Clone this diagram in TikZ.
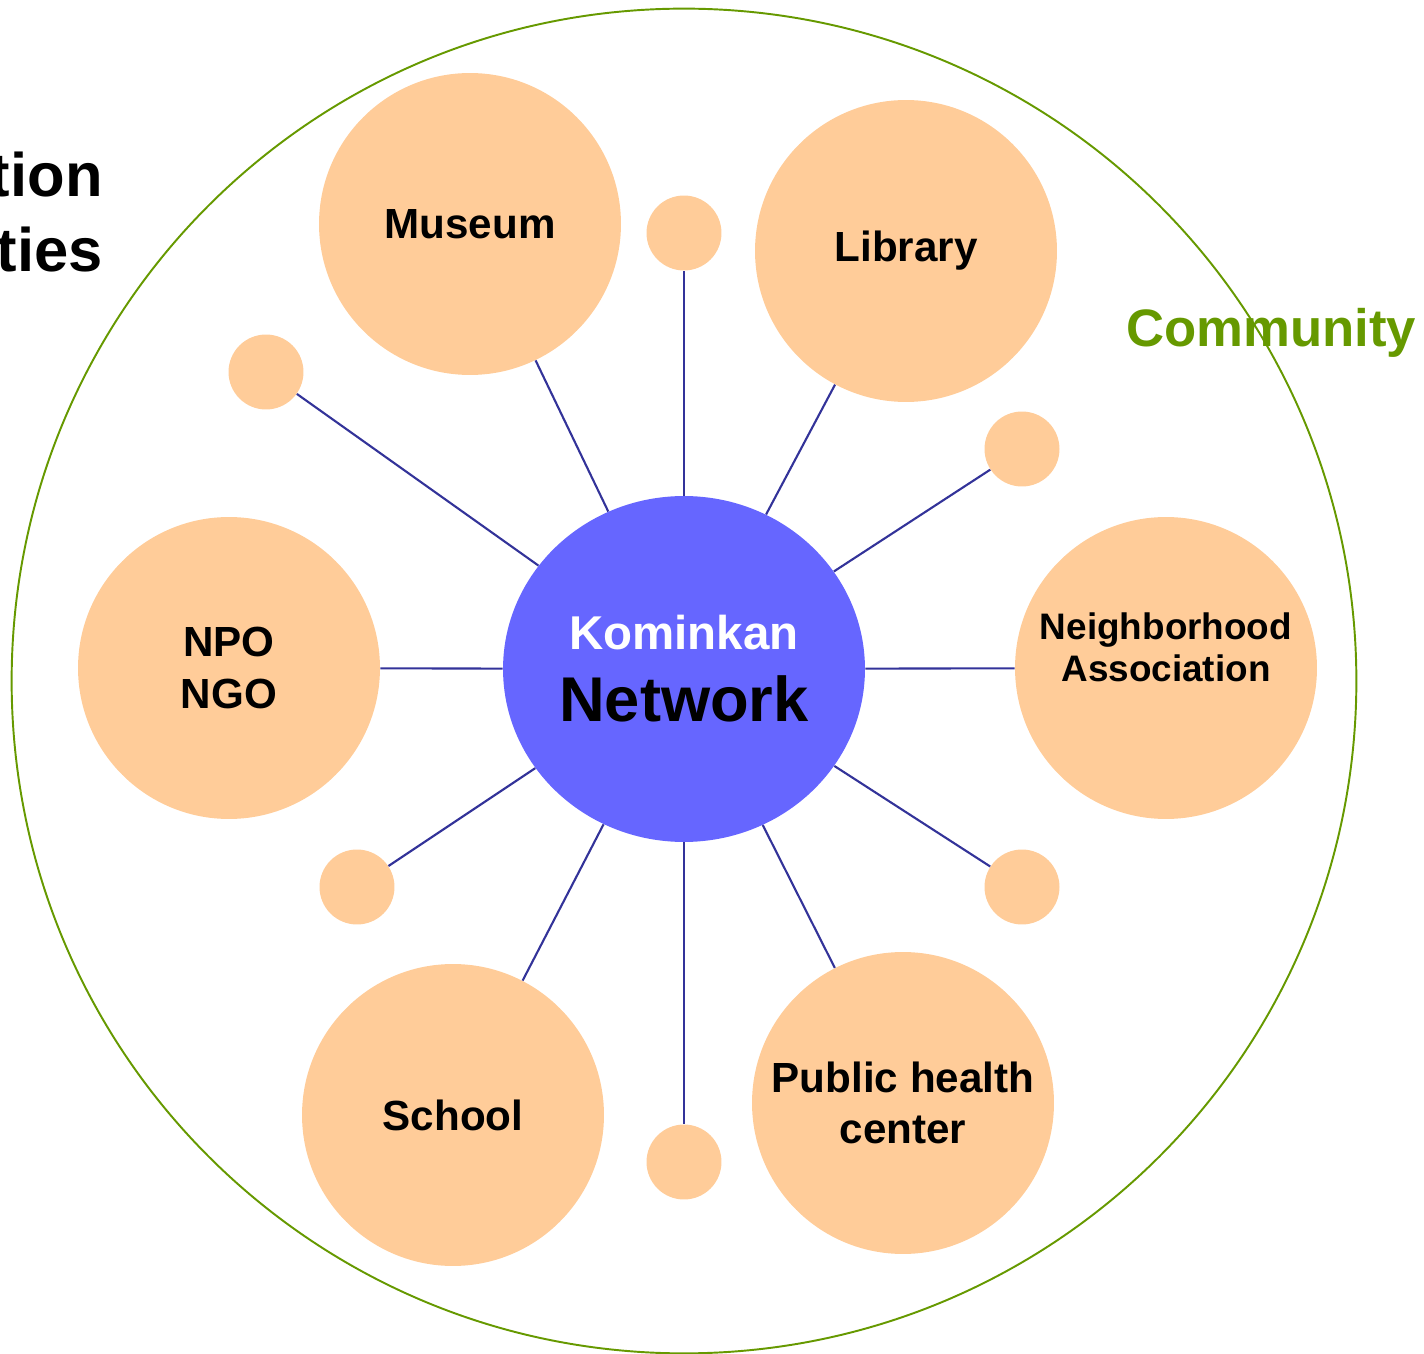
\documentclass[tikz,border=0pt]{standalone}
\usepackage{fontspec}
\setmainfont{Liberation Sans}
\usetikzlibrary{shapes.geometric}
\definecolor{peach}{HTML}{FFCC99}
\definecolor{kominkanblue}{HTML}{6666FF}
\definecolor{spokeblue}{HTML}{333399}
\definecolor{communitygreen}{HTML}{669900}
\begin{document}
\begin{tikzpicture}[x=0.02cm, y=-0.02cm,
	partner/.style={circle, fill=peach, inner sep=0pt, minimum size=6.04cm, align=center, font=\bfseries\fontsize{24}{29.5}\selectfont},
	smallspot/.style={circle, fill=peach, inner sep=0pt, minimum size=1.5cm},
	spoke/.style={spokeblue, line width=1.2pt}]
	\useasboundingbox (0,0) rectangle (1424,1354);

	\draw[communitygreen, line width=1.1pt] (684,681) circle [radius=13.45cm];
	\node[font=\bfseries\fontsize{35}{42}\selectfont, anchor=base east, inner sep=0pt] (tion) at (103,197) {tion};
	\node[font=\bfseries\fontsize{35}{42}\selectfont, anchor=base east, inner sep=0pt] (ties) at (103,272) {ties};
	\node[font=\bfseries\fontsize{30}{36}\selectfont, text=communitygreen, inner sep=0pt] (community) at (1271,333) {Community};

	\node[ellipse, fill=kominkanblue, inner sep=0pt, minimum width=7.24cm, minimum height=6.92cm, align=center, font=\bfseries\fontsize{36}{41}\selectfont] (kominkan) at (684,669) {{\color{white}\fontsize{27}{41}\selectfont Kominkan}\\Network};

	\node[partner] (museum) at (470,224) {Museum};
	\node[partner] (library) at (906,251) {Library};
	\node[partner] (npo) at (229,668) {NPO\\NGO};
	\node[partner, font=\bfseries\fontsize{21}{24}\selectfont] (neighborhood) at (1166,668) {Neighborhood\\Association\\\mbox{}};
	\node[partner] (school) at (453,1115) {School};
	\node[partner] (health) at (903,1103) {Public health\\center};

	\node[smallspot] (spottop) at (684,233) {};
	\node[smallspot] (spotnw) at (266,372) {};
	\node[smallspot] (spotne) at (1022,449) {};
	\node[smallspot] (spotsw) at (357,887) {};
	\node[smallspot] (spotse) at (1022,887) {};
	\node[smallspot] (spotbottom) at (684,1162) {};

	\foreach \target in {museum, library, npo, neighborhood, school, health, spottop, spotnw, spotne, spotsw, spotse, spotbottom}
		\draw[spoke] (kominkan) -- (\target);

\end{tikzpicture}
\end{document}
